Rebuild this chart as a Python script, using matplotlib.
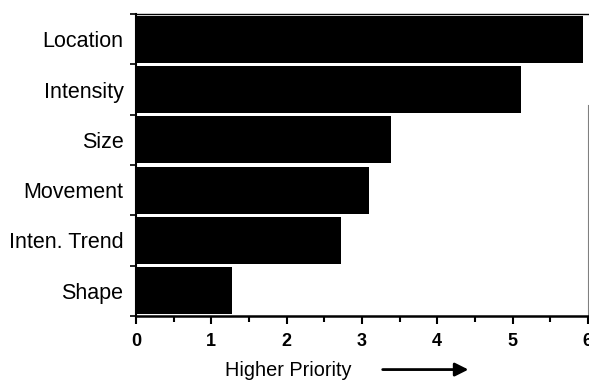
import numpy as np
import matplotlib.pyplot as plt

plt.rcParams['font.family'] = ['Liberation Sans', 'DejaVu Sans']

categories = ['Location', 'Intensity', 'Size', 'Movement', 'Inten. Trend', 'Shape']
priority = [5.94, 5.11, 3.38, 3.10, 2.72, 1.27]

fig = plt.figure(figsize=(5.89, 3.81), dpi=100)
ax = fig.add_axes([0.231, 0.171, 0.767, 0.792])

y = np.arange(len(categories))[::-1]
ax.barh(y, priority, height=0.93, color='black')

ax.set_xlim(0, 6)
ax.set_ylim(-0.5, len(categories) - 0.5)
ax.set_xticks(np.arange(0, 7))
ax.set_xticks(np.arange(0.5, 6, 1), minor=True)
ax.set_xticklabels(['0', '1', '2', '3', '4', '5', '6'], fontsize=13, fontweight='bold')
ax.set_yticks(y)
ax.set_yticklabels(categories, fontsize=15.5)
ax.tick_params(axis='y', length=0, pad=9)
ax.set_yticks(np.arange(-0.5, len(categories)), minor=True)
ax.tick_params(axis='y', which='minor', length=4, width=1.2, direction='out')
ax.tick_params(axis='x', which='major', length=6, width=1.5, direction='out', pad=6)
ax.tick_params(axis='x', which='minor', length=4, width=1.5, direction='out')

ax.spines['left'].set_linewidth(1.5)
ax.spines['bottom'].set_linewidth(1.8)
ax.spines['top'].set_linewidth(1.0)
ax.spines['right'].set_color('0.5')
ax.spines['right'].set_linewidth(0.8)
ax.spines['right'].set_bounds(-0.5, 3.7)

fig.text(0.49, 0.003, 'Higher Priority', fontsize=14.3, ha='center', va='bottom')
ax.annotate('', xy=(0.8, 0.03), xytext=(0.645, 0.03), xycoords='figure fraction',
            arrowprops=dict(arrowstyle='-|>', color='black', lw=2, mutation_scale=20))

fig.savefig('out.png', dpi=100)
